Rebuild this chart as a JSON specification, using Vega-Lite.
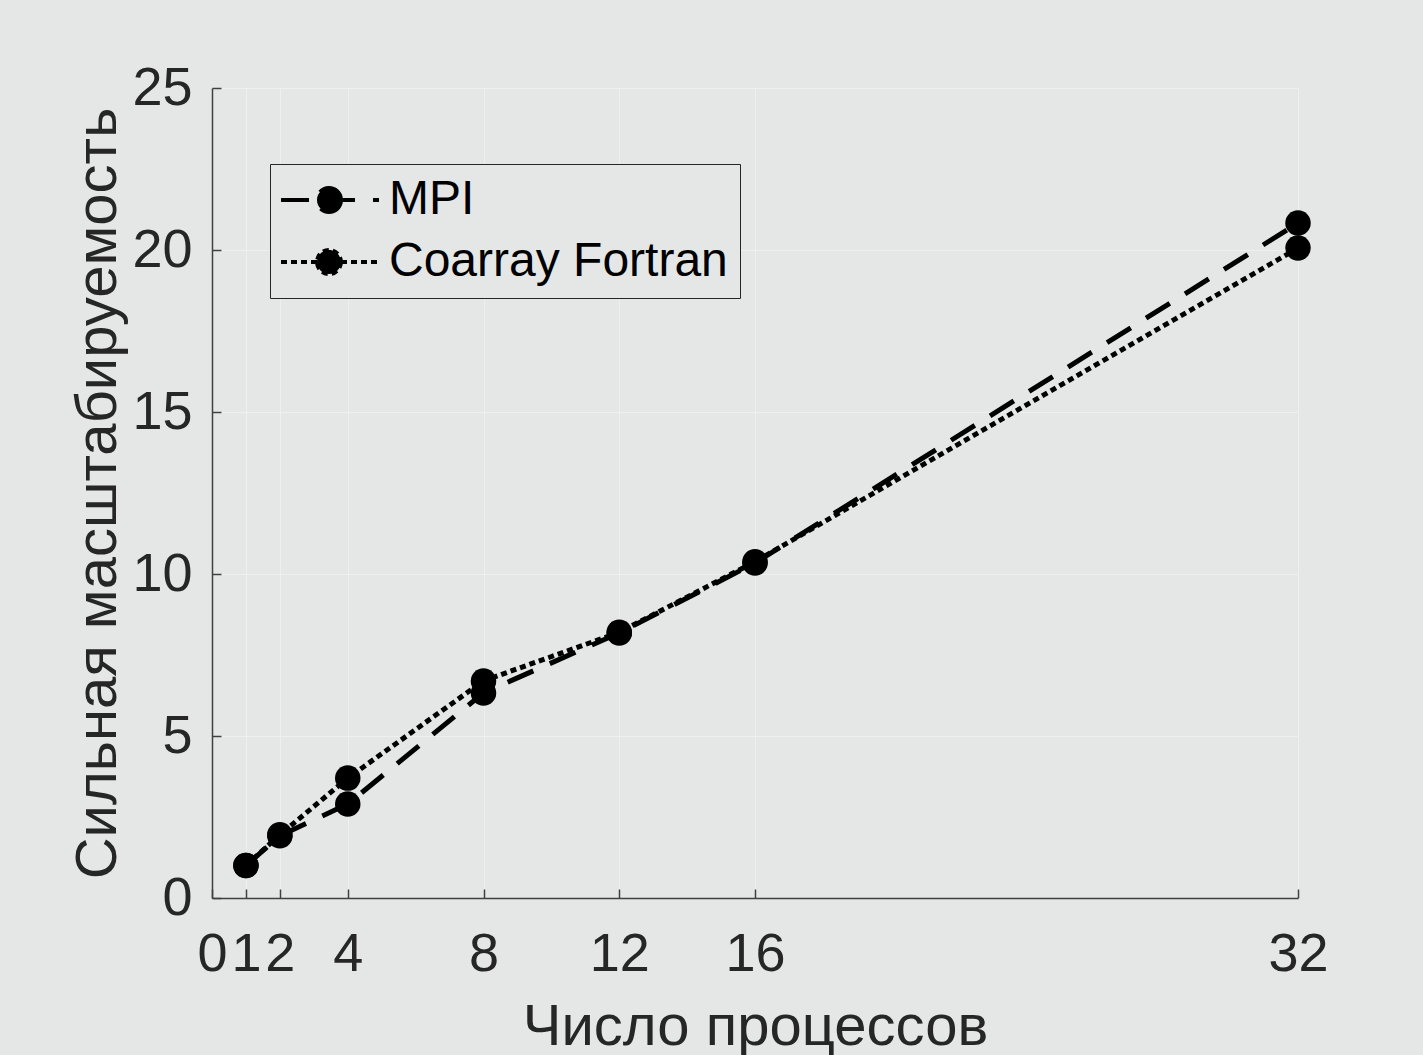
{
  "$schema": "https://vega.github.io/schema/vega-lite/v6.json",
  "width": 1086,
  "height": 810,
  "autosize": {"type": "none"},
  "padding": {"left": 212, "top": 88, "right": 125, "bottom": 157},
  "background": "#e4e7e5",
  "config": {
    "view": {"stroke": null},
    "font": "Liberation Sans",
    "axis": {
      "domainColor": "#404040",
      "domainWidth": 1.5,
      "tickColor": "#404040",
      "tickWidth": 1.5,
      "tickSize": -9,
      "gridColor": "#eef0ef",
      "gridWidth": 1,
      "labelFont": "Liberation Sans",
      "labelFontSize": 54,
      "labelColor": "#262626",
      "titleFont": "Liberation Sans",
      "titleFontSize": 58,
      "titleFontWeight": "normal",
      "titleColor": "#262626",
      "labelOverlap": false,
      "labelFlush": false
    }
  },
  "data": {
    "values": [
      {"procs": 1, "speedup": 1.0, "series": "MPI"},
      {"procs": 2, "speedup": 1.92, "series": "MPI"},
      {"procs": 4, "speedup": 2.9, "series": "MPI"},
      {"procs": 8, "speedup": 6.33, "series": "MPI"},
      {"procs": 12, "speedup": 8.18, "series": "MPI"},
      {"procs": 16, "speedup": 10.34, "series": "MPI"},
      {"procs": 32, "speedup": 20.83, "series": "MPI"},
      {"procs": 1, "speedup": 1.0, "series": "Coarray Fortran"},
      {"procs": 2, "speedup": 1.95, "series": "Coarray Fortran"},
      {"procs": 4, "speedup": 3.7, "series": "Coarray Fortran"},
      {"procs": 8, "speedup": 6.7, "series": "Coarray Fortran"},
      {"procs": 12, "speedup": 8.2, "series": "Coarray Fortran"},
      {"procs": 16, "speedup": 10.38, "series": "Coarray Fortran"},
      {"procs": 32, "speedup": 20.06, "series": "Coarray Fortran"}
    ]
  },
  "encoding": {
    "x": {
      "field": "procs",
      "type": "quantitative",
      "scale": {"domain": [0, 32], "nice": false, "zero": false},
      "axis": {
        "values": [0, 1, 2, 4, 8, 12, 16, 32],
        "title": "Число процессов",
        "labelPadding": 38,
        "titlePadding": 17
      }
    },
    "y": {
      "field": "speedup",
      "type": "quantitative",
      "scale": {"domain": [0, 25], "nice": false},
      "axis": {
        "values": [0, 5, 10, 15, 20, 25],
        "title": "Сильная масштабируемость",
        "labelPadding": 29,
        "titlePadding": 4
      }
    }
  },
  "layer": [
    {
      "mark": {"type": "line", "strokeWidth": 5, "color": "black"},
      "encoding": {
        "strokeDash": {
          "field": "series",
          "type": "nominal",
          "scale": {"domain": ["MPI", "Coarray Fortran"], "range": [[28, 18], [6, 4]]},
          "legend": {
            "orient": "none",
            "legendX": 58,
            "legendY": 76,
            "title": null,
            "strokeColor": "#262626",
            "fillColor": "#e4e7e5",
            "padding": 12,
            "labelFont": "Liberation Sans",
            "labelFontSize": 48,
            "labelColor": "#000000",
            "labelLimit": 0,
            "labelOffset": 59,
            "rowPadding": 14,
            "symbolType": "M-1.25,0H3.65M1.75,0A0.6,0.6,0,1,1,0.55,0A0.6,0.6,0,1,1,1.75,0Z",
            "symbolSize": 1600,
            "symbolStrokeWidth": 4,
            "symbolStrokeColor": "black",
            "symbolFillColor": "black",
            "encode": {"symbols": {"update": {"fill": {"value": "black"}, "stroke": {"value": "black"}}}}
          }
        }
      }
    },
    {
      "mark": {"type": "point", "filled": true, "size": 650, "color": "black", "opacity": 1},
      "encoding": {"detail": {"field": "series", "type": "nominal"}}
    }
  ]
}
